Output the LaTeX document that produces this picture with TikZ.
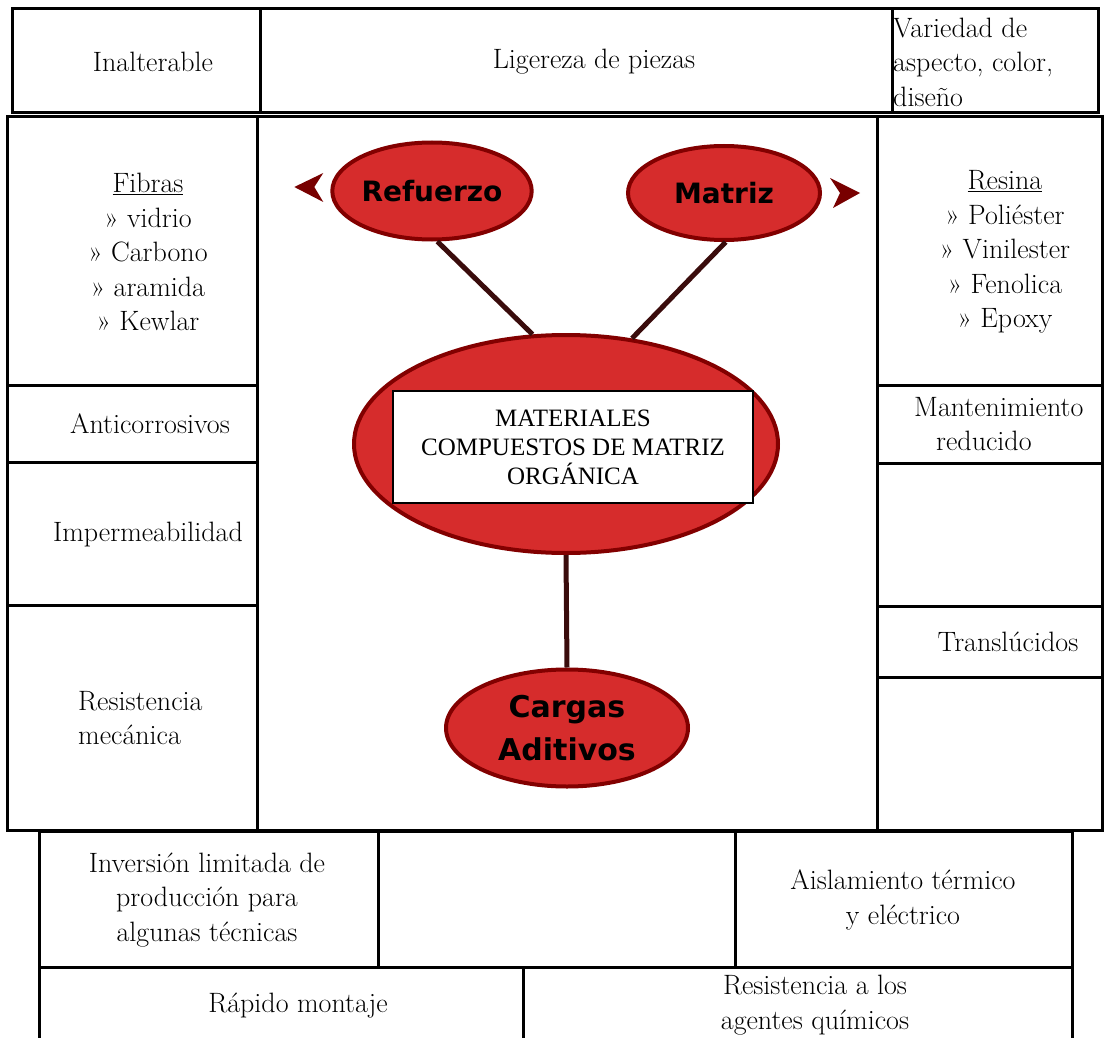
\documentclass[tikz,border=0pt]{standalone}
\usepackage{fontspec}
\usetikzlibrary{shapes.geometric,arrows}
\usetikzlibrary{positioning}
\newfontfamily\boxfont{Liberation Serif}
\newfontfamily\labelfont{DejaVu Sans Bold}
\definecolor{ellred}{RGB}{214,44,44}
\definecolor{ellrim}{RGB}{130,0,0}
\definecolor{tipred}{RGB}{120,0,0}
\definecolor{linkbrown}{RGB}{58,12,12}

\begin{document}
\begin{tikzpicture}[x=1pt,y=-1pt]
% define box types
\tikzstyle{grid}=[line width=3pt]
\tikzstyle{cell}=[inner sep=0pt, align=center, font=\fontsize{28}{34.5}\selectfont]
\tikzstyle{ell}=[draw=ellrim, fill=ellred, ellipse, line width=4pt, inner sep=0pt,
    font=\labelfont\fontsize{28}{43}\selectfont]
\tikzstyle{titlebox}=[draw, rectangle, fill=white, line width=1.5pt, align=center,
    minimum width=360pt, minimum height=112pt, font=\boxfont\fontsize{25}{29}\selectfont]
\tikzstyle{link}=[line width=5pt, draw=linkbrown]
\useasboundingbox (0,0) rectangle (1104,1038);
% table lines
\draw[grid] (12,9) rectangle (1098,113);
\draw[grid] (260,9) -- (260,113);
\draw[grid] (892,9) -- (892,113);
\draw[grid] (7,117) rectangle (1102,830);
\draw[grid] (257,117) -- (257,830);
\draw[grid] (877,117) -- (877,830);
\foreach \y in {385,462,605} \draw[grid] (7,\y) -- (257,\y);
\foreach \y in {385,463,606,677} \draw[grid] (877,\y) -- (1102,\y);
\draw[grid] (39,1040) -- (39,831) -- (1072,831) -- (1072,1040);
\draw[grid] (39,967) -- (1072,967);
\draw[grid] (378,831) -- (378,967);
\draw[grid] (735,831) -- (735,967);
\draw[grid] (523,967) -- (523,1040);
% cells
\node[cell] (inalt) at (153,62) {Inalterable};
\node[cell] (liger) at (594,62) {Ligereza de piezas};
\node[cell, align=left, anchor=west] (varie) at (893,62) {Variedad de\\aspecto, color,\\diseño};
\node[cell] (fibras) at (148,252) {\underline{Fibras}\\» vidrio\\» Carbono\\» aramida\\» Kewlar};
\node[cell] (anti) at (150,424) {Anticorrosivos};
\node[cell] (imper) at (148,535) {Impermeabilidad};
\node[cell, align=left, anchor=west] (resmec) at (78,718) {Resistencia\\mecánica};
\node[cell] (resina) at (1005,252) {\underline{Resina}\\» Poliéster\\» Vinilester\\» Fenolica\\» Epoxy};
\node[cell, align=left, anchor=west] (mante) at (914,424) {Mantenimiento\\\hspace*{22pt}reducido};
\node[cell] (transl) at (1008,642) {Translúcidos};
\node[cell] (inver) at (207,900) {Inversión limitada de\\producción para\\algunas técnicas};
\node[cell] (aisla) at (903,900) {Aislamiento térmico\\y eléctrico};
\node[cell] (rapido) at (298,1006) {Rápido montaje};
\node[cell] (quim) at (815,1005) {Resistencia a los\\agentes químicos};
% ellipses
\node[ell, minimum width=192pt, minimum height=97pt] (ref) at (432,191) {Refuerzo};
\node[ell, minimum width=192pt, minimum height=94pt] (mat) at (724,193) {Matriz};
\node[ell, minimum width=424pt, minimum height=218pt] (cen) at (566,444) {};
\node[ell, minimum width=242pt, minimum height=117pt, align=center,
    font=\labelfont\fontsize{30}{43}\selectfont] (car) at (567,728) {Cargas\\Aditivos};
\node[titlebox] (title) at (573,447) {MATERIALES\\COMPUESTOS DE MATRIZ\\ORGÁNICA};
% links
\draw[link] (ref.-84) -- (cen.107);
\draw[link] (mat.-88) -- (cen.58);
\draw[link] (cen.south) -- (car.north);
% arrow tips
\coordinate (reftip) at ([xshift=-36pt,yshift=4pt]ref.west);
\coordinate (mattip) at ([xshift=38pt]mat.east);
\fill[tipred] (reftip) -- ++(29,-14) -- ++(-9,14) -- ++(9,15) -- cycle;
\fill[tipred] (mattip) -- ++(-30,-15) -- ++(10,15) -- ++(-7,15) -- cycle;
\end{tikzpicture}
\end{document}
